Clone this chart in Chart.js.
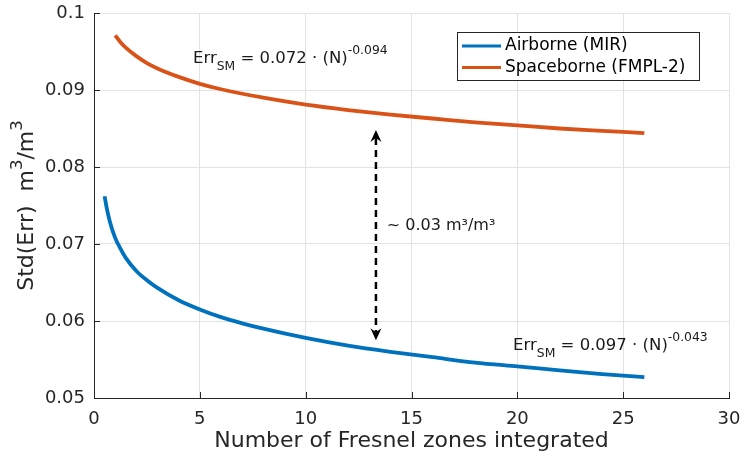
<!DOCTYPE html>
<html>
<head>
<meta charset="utf-8">
<script src="https://cdn.jsdelivr.net/npm/chart.js@4.4.1/dist/chart.umd.min.js"></script>
<style>
  html, body { margin: 0; padding: 0; background: #fff; }
  #chartErr { display: block; }
</style>
</head>
<body>
<canvas id="chartErr" width="744" height="457"></canvas>
<script>
// number of Fresnel zones integrated vs. std of the soil moisture error
const zonesAir = [0.5, 0.6, 0.75, 1, 1.25, 1.5, 2, 2.5, 3, 4, 5, 6, 7, 8, 10, 12, 14, 16, 18, 20, 22, 24, 26];
const errAir = [0.0762, 0.0747, 0.0729, 0.0708, 0.0694, 0.0682, 0.0665, 0.0653, 0.0643, 0.0627, 0.0615,
                0.0605, 0.0597, 0.0590, 0.0578, 0.0568, 0.0560, 0.0553, 0.0546, 0.0541, 0.0536, 0.0531, 0.0527];
const zonesSpace = [1, 1.25, 1.5, 2, 2.5, 3, 4, 5, 6, 8, 10, 12, 14, 16, 18, 20, 22, 24, 26];
const errSpace = [0.0971, 0.0962, 0.0955, 0.0944, 0.0935, 0.0928, 0.0917, 0.0908, 0.0901, 0.0890, 0.0881,
                  0.0874, 0.0868, 0.0863, 0.0858, 0.0854, 0.0850, 0.0847, 0.0844];
const seriesNames = ['Airborne (MIR)', 'Spaceborne (FMPL-2)'];
const xTicks = [0, 5, 10, 15, 20, 25, 30];
const yTicks = [0.05, 0.06, 0.07, 0.08, 0.09, 0.1];

const FONT = "'DejaVu Sans', sans-serif";
const INK = '#262626';
const BLUE = '#0072BD';
const ORANGE = '#D95319';

const toPoints = (xs, ys) => xs.map((x, i) => ({ x: x, y: ys[i] }));

// text with sub/superscripts, parts = [[text, 'sub'|'sup'|undefined], ...]
function richText(ctx, parts, x, y, size) {
  let cx = x;
  for (const [t, kind] of parts) {
    const s = kind ? size * 0.75 : size;
    const dy = kind === 'sub' ? size * 0.45 : kind === 'sup' ? -size * 0.5 : 0;
    ctx.font = s + 'px ' + FONT;
    ctx.fillText(t, cx, y + dy);
    cx += ctx.measureText(t).width;
  }
  return cx - x;
}
function richWidth(ctx, parts, size) {
  let w = 0;
  for (const [t, kind] of parts) {
    ctx.font = (kind ? size * 0.75 : size) + 'px ' + FONT;
    w += ctx.measureText(t).width;
  }
  return w;
}

function arrowHead(ctx, x, y, dir) {
  // dir = -1 points up, 1 points down
  ctx.beginPath();
  ctx.moveTo(x, y);
  ctx.lineTo(x - 5.5, y - dir * 12);
  ctx.lineTo(x, y - dir * 8);
  ctx.lineTo(x + 5.5, y - dir * 12);
  ctx.closePath();
  ctx.fill();
}

const extras = {
  id: 'extras',
  afterDraw(chart) {
    const { ctx, chartArea: a, scales: { x, y } } = chart;
    ctx.save();

    // inward tick marks
    ctx.strokeStyle = INK;
    ctx.lineWidth = 1;
    ctx.beginPath();
    xTicks.forEach(v => {
      const px = Math.round(x.getPixelForValue(v)) + 0.5;
      ctx.moveTo(px, a.bottom);
      ctx.lineTo(px, a.bottom - 6);
    });
    yTicks.forEach(v => {
      const py = Math.round(y.getPixelForValue(v)) + 0.5;
      ctx.moveTo(a.left, py);
      ctx.lineTo(a.left + 6, py);
    });
    ctx.stroke();

    // y axis title
    ctx.fillStyle = INK;
    ctx.textBaseline = 'alphabetic';
    ctx.textAlign = 'left';
    const yTitle = [['Std(Err)  m'], ['3', 'sup'], ['/m'], ['3', 'sup']];
    const tw = richWidth(ctx, yTitle, 22);
    ctx.save();
    ctx.translate(33, (a.top + a.bottom) / 2);
    ctx.rotate(-Math.PI / 2);
    richText(ctx, yTitle, -tw / 2, 0, 22);
    ctx.restore();

    // fitted-law labels
    ctx.fillStyle = '#1a1a1a';
    richText(ctx, [['Err'], ['SM', 'sub'], [' = 0.072 \u00b7 (N)'], ['-0.094', 'sup']],
      x.getPixelForValue(4.68), y.getPixelForValue(0.09355), 16.5);
    richText(ctx, [['Err'], ['SM', 'sub'], [' = 0.097 \u00b7 (N)'], ['-0.043', 'sup']],
      x.getPixelForValue(19.8), y.getPixelForValue(0.05627), 16.5);

    // gap between the two curves
    const ax = x.getPixelForValue(13.32);
    const aTop = y.getPixelForValue(0.0848);
    const aBot = y.getPixelForValue(0.0575);
    ctx.strokeStyle = '#000';
    ctx.fillStyle = '#000';
    ctx.lineWidth = 2.5;
    ctx.setLineDash([7, 5]);
    ctx.beginPath();
    ctx.moveTo(ax, aTop + 8);
    ctx.lineTo(ax, aBot - 8);
    ctx.stroke();
    ctx.setLineDash([]);
    arrowHead(ctx, ax, aTop, -1);
    arrowHead(ctx, ax, aBot, 1);

    ctx.fillStyle = '#1a1a1a';
    ctx.font = '16px ' + FONT;
    ctx.textBaseline = 'middle';
    ctx.fillText('~ 0.03 m\u00b3/m\u00b3', x.getPixelForValue(13.83), y.getPixelForValue(0.07238));

    // legend box
    const lx = 457.5, ly = 32.5, lw = 242, lh = 48;
    ctx.fillStyle = '#fff';
    ctx.fillRect(lx, ly, lw, lh);
    ctx.strokeStyle = INK;
    ctx.lineWidth = 1;
    ctx.strokeRect(lx, ly, lw, lh);
    chart.data.datasets.forEach((ds, i) => {
      const ry = 46 + i * 21.5;
      ctx.strokeStyle = ds.borderColor;
      ctx.lineWidth = 3;
      ctx.beginPath();
      ctx.moveTo(462, ry);
      ctx.lineTo(501, ry);
      ctx.stroke();
      ctx.fillStyle = '#000';
      ctx.font = '17px ' + FONT;
      ctx.textBaseline = 'middle';
      ctx.fillText(ds.label, 505, ry);
    });

    ctx.restore();
  }
};

new Chart(document.getElementById('chartErr'), {
  type: 'line',
  data: {
    datasets: [{
      label: seriesNames[0],
      data: toPoints(zonesAir, errAir),
      borderColor: BLUE,
      borderWidth: 3.8,
      pointRadius: 0,
      cubicInterpolationMode: 'monotone'
    }, {
      label: seriesNames[1],
      data: toPoints(zonesSpace, errSpace),
      borderColor: ORANGE,
      borderWidth: 3.8,
      pointRadius: 0,
      cubicInterpolationMode: 'monotone'
    }]
  },
  options: {
    responsive: false,
    animation: false,
    devicePixelRatio: 1,
    layout: { padding: { top: 13, right: 15, left: 0, bottom: 0 } },
    plugins: { legend: { display: false }, tooltip: { enabled: false } },
    scales: {
      x: {
        type: 'linear',
        min: 0,
        max: 30,
        afterBuildTicks: s => { s.ticks = xTicks.map(v => ({ value: v })); },
        afterFit: s => { s.height = 59; s.paddingLeft = 0; s.paddingRight = 0; },
        grid: { color: '#e3e3e3', drawTicks: false },
        border: { color: INK, width: 1 },
        ticks: { color: INK, font: { family: FONT, size: 18 }, padding: 11, maxRotation: 0 },
        title: {
          display: true,
          text: 'Number of Fresnel zones integrated',
          color: INK,
          font: { family: FONT, size: 22, lineHeight: 1 },
          padding: { top: 0, bottom: 5 }
        }
      },
      y: {
        min: 0.05,
        max: 0.1,
        afterBuildTicks: s => { s.ticks = yTicks.map(v => ({ value: v })); },
        afterFit: s => { s.width = 94; s.paddingTop = 0; s.paddingBottom = 0; },
        grid: { color: '#e3e3e3', drawTicks: false },
        border: { color: INK, width: 1 },
        ticks: {
          color: INK,
          font: { family: FONT, size: 18 },
          padding: 9,
          callback: v => String(+v.toFixed(2))
        }
      }
    }
  },
  plugins: [extras]
});
</script>
</body>
</html>
